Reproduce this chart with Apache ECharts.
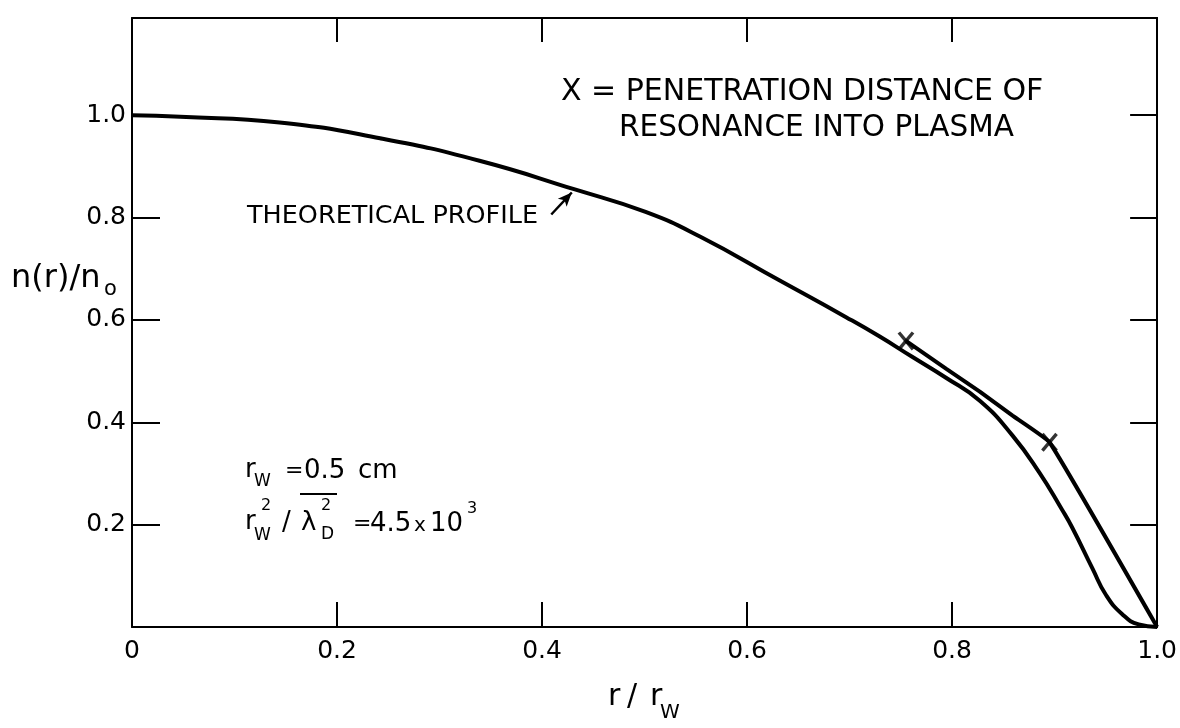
<!DOCTYPE html>
<html>
<head>
<meta charset="utf-8">
<title>n(r)/n0 profile</title>
<script src="https://cdn.jsdelivr.net/npm/echarts@6/dist/echarts.min.js"></script>
<style>
    html, body { margin: 0; padding: 0; background: #fff; }
    #main { width: 1180px; height: 728px; }
</style>
</head>
<body>
<div id="main"></div>
<script>
// theoretical density profile n(r)/n0 vs r/rw
const PROFILE_R = [0, 0.047, 0.144, 0.242, 0.339, 0.432, 0.501, 0.554, 0.631, 0.697, 0.729, 0.761, 0.794, 0.827, 0.859, 0.885, 0.907, 0.917, 0.937, 0.95, 0.966, 0.982, 1.0]
const PROFILE_N = [1.0, 0.997, 0.986, 0.955, 0.911, 0.855, 0.811, 0.763, 0.678, 0.605, 0.568, 0.528, 0.487, 0.442, 0.374, 0.302, 0.23, 0.195, 0.114, 0.063, 0.025, 0.005, 0]
// penetration distance of resonance (line through the X marks)
const PEN_R = [0.755, 0.794, 0.827, 0.859, 0.895, 1.0]
const PEN_N = [0.559, 0.505, 0.46, 0.413, 0.361, 0]
// the two X marks
const MARK_R = [0.755, 0.895]
const MARK_N = [0.559, 0.361]
// arrow of the "THEORETICAL PROFILE" label: [tail, tip]
const ARROW = [[0.409, 0.806], [0.429, 0.849]]
const X_TICKS = [0, 0.2, 0.4, 0.6, 0.8, 1.0]
const Y_TICKS = [0.2, 0.4, 0.6, 0.8, 1.0]

const FONT = '"DejaVu Sans", sans-serif'

const pairs = (xs, ys) => xs.map((x, i) => [x, ys[i]])

// plain text piece, placed by its left edge and vertical middle
const txt = (text, x, y, size) => ({
    type: 'text',
    x: x,
    y: y,
    silent: true,
    style: {
        text: text,
        fill: '#000',
        fontSize: size,
        fontFamily: FONT,
        align: 'left',
        verticalAlign: 'middle'
    }
})

const axisLine = {show: true, onZero: false, lineStyle: {color: '#000', width: 2}}

const xLabel = v => {
    const hit = X_TICKS.find(t => Math.abs(t - v) < 1e-6)
    if (hit === undefined) return ''
    return hit === 0 ? '0' : hit.toFixed(1)
}
const yLabel = v => {
    const hit = Y_TICKS.find(t => Math.abs(t - v) < 1e-6)
    return hit === undefined ? '' : hit.toFixed(1)
}

// one stroke of an X mark
const xStroke = angle => ({
    type: 'scatter',
    data: pairs(MARK_R, MARK_N),
    symbol: 'rect',
    symbolSize: [3.4, 22],
    symbolRotate: angle,
    itemStyle: {color: '#000'},
    z: 5
})

let option = {
    backgroundColor: '#fff',
    animation: false,
    grid: {
        left: 132,
        right: 20,
        top: 18,
        bottom: 101
    },
    xAxis: [{
        type: 'value',
        min: 0,
        max: 1,
        interval: 0.2,
        position: 'bottom',
        axisLine: axisLine,
        axisTick: {show: true, inside: true, length: 25, lineStyle: {color: '#000', width: 2}},
        axisLabel: {
            formatter: xLabel,
            color: '#000',
            fontSize: 25,
            fontFamily: FONT,
            margin: 12
        },
        splitLine: {show: false}
    }, {
        type: 'value',
        min: 0,
        max: 1,
        interval: 0.2,
        position: 'top',
        axisLine: axisLine,
        axisTick: {show: true, inside: true, length: 24, lineStyle: {color: '#000', width: 2}},
        axisLabel: {show: false},
        splitLine: {show: false}
    }],
    yAxis: [{
        type: 'value',
        min: 0,
        max: 1.19,
        interval: 0.2,
        position: 'left',
        axisLine: axisLine,
        axisTick: {show: true, inside: true, length: 28, lineStyle: {color: '#000', width: 2}},
        axisLabel: {
            formatter: yLabel,
            color: '#000',
            fontSize: 25,
            fontFamily: FONT,
            margin: 6
        },
        splitLine: {show: false}
    }, {
        type: 'value',
        min: 0,
        max: 1.19,
        interval: 0.2,
        position: 'right',
        axisLine: axisLine,
        axisTick: {show: true, inside: true, length: 27, lineStyle: {color: '#000', width: 2}},
        axisLabel: {show: false},
        splitLine: {show: false}
    }],
    series: [{
        name: 'theoretical',
        type: 'line',
        data: pairs(PROFILE_R, PROFILE_N),
        smooth: 0.5,
        showSymbol: false,
        lineStyle: {color: '#000', width: 4},
        markLine: {
            silent: true,
            symbol: ['none', 'arrow'],
            symbolSize: [9, 14],
            label: {show: false},
            lineStyle: {color: '#000', width: 2.5, type: 'solid'},
            data: [[{coord: ARROW[0]}, {coord: ARROW[1]}]]
        }
    }, {
        name: 'penetration',
        type: 'line',
        data: pairs(PEN_R, PEN_N),
        smooth: 0.1,
        showSymbol: false,
        lineStyle: {color: '#000', width: 4}
    },
        xStroke(40),
        xStroke(-40)
    ],
    graphic: [
        txt('X = PENETRATION DISTANCE OF', 561, 92, 30),
        txt('RESONANCE INTO PLASMA', 619, 128, 29.5),
        txt('THEORETICAL PROFILE', 247, 216, 25.5),
        // axis names
        txt('n(r)/n', 11, 279, 32),
        txt('o', 104, 290, 21),
        txt('r', 608, 697, 30),
        txt('/', 627, 697, 30),
        txt('r', 650, 697, 30),
        txt('W', 660, 713, 20),
        // rw = 0.5 cm
        txt('r', 245, 470, 26),
        txt('W', 254, 482, 17),
        txt('=', 285, 471, 22),
        txt('0.5', 304, 471, 26),
        txt('cm', 358, 471, 26),
        // rw^2 / lambdaD^2 = 4.5 x 10^3
        txt('r', 245, 522, 26),
        txt('2', 261, 506, 16),
        txt('W', 254, 536, 17),
        txt('/', 282, 523, 26),
        txt('λ', 301, 523, 26),
        txt('2', 321, 506, 16),
        txt('D', 321, 535, 17),
        {
            type: 'line',
            silent: true,
            shape: {x1: 300, y1: 494, x2: 337, y2: 494},
            style: {stroke: '#000', lineWidth: 2}
        },
        txt('=', 353, 524, 22),
        txt('4.5', 370, 524, 26),
        txt('x', 414, 526, 20),
        txt('10', 430, 524, 26),
        txt('3', 467, 509, 16)
    ]
}

var chartDom = document.getElementById('main');
var myChart = echarts.init(chartDom);
option && myChart.setOption(option);
window.addEventListener('resize', () => {
    myChart.resize();
})
</script>
</body>
</html>
